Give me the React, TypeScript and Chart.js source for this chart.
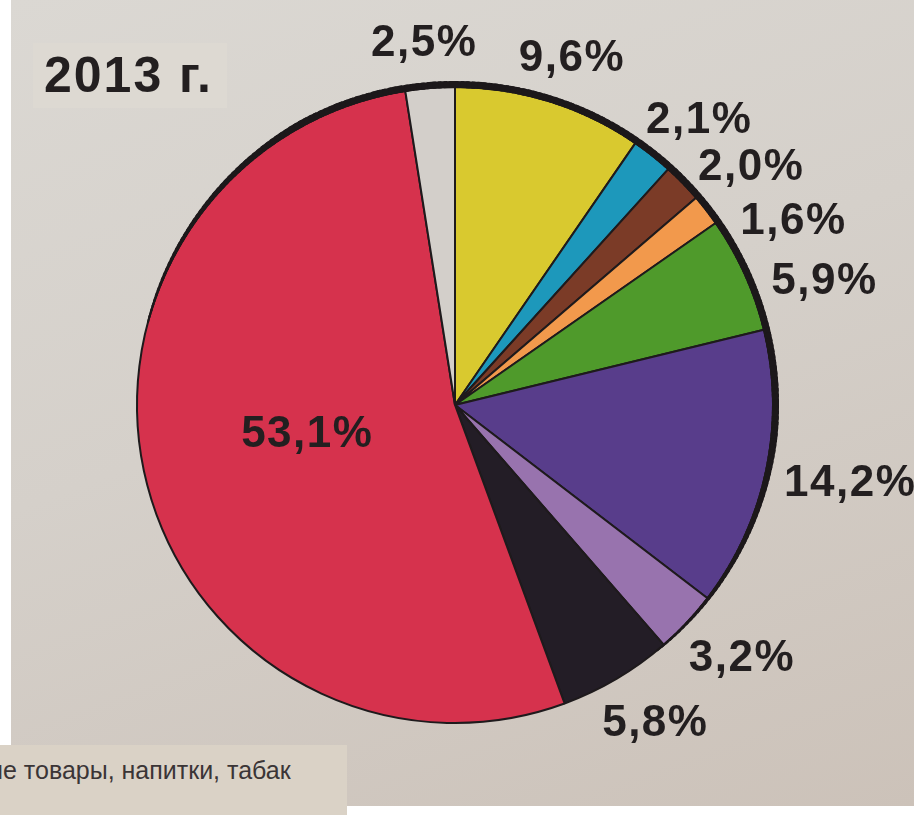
import React, { useEffect, useRef } from 'react';
import { Chart, registerables } from 'chart.js';

Chart.register(...registerables);

// ---- data ----
const titleText = '2013 г.';
const footnoteText = 'ие товары, напитки, табак';
const sectors = ['Жёлтый', 'Голубой', 'Коричневый', 'Оранжевый', 'Зелёный', 'Фиолетовый', 'Сиреневый', 'Чёрный', 'Красный', 'Серый'];
const shares = [9.6, 2.1, 2.0, 1.6, 5.9, 14.2, 3.2, 5.8, 53.1, 2.5];
const sliceColors = ['#d9c92f', '#1d98bb', '#7b3b27', '#f2994c', '#4f9a2b', '#583d8b', '#9873ae', '#231d26', '#d6324d', '#d3cfca'];

const fmt = (v: number) => v.toFixed(1).replace('.', ',') + '%';

const INK = '#231f20';

const labelPlugin = {
  id: 'pctLabels',
  afterDatasetsDraw(chart: any) {
    const ctx: CanvasRenderingContext2D = chart.ctx;
    const arcs = chart.getDatasetMeta(0).data as any[];
    if (!arcs.length) return;
    const { x: cx, y: cy, outerRadius: r } = arcs[0].getProps(['x', 'y', 'outerRadius'], true);

    // thick printed rim on the upper-right part
    ctx.save();
    ctx.strokeStyle = '#1c181a';
    ctx.lineCap = 'butt';
    const deg = Math.PI / 180;
    for (let d = -75; d < 140; d += 1) {
      let w = 7;
      if (d < -30) w = 2 + 5 * ((d + 75) / 45);
      else if (d > 95) w = 7 - 5 * ((d - 95) / 45);
      const rr = r - 1 + w / 2;
      ctx.lineWidth = w;
      ctx.beginPath();
      ctx.arc(cx, cy, rr, (d - 90) * deg, (d + 1.6 - 90) * deg);
      ctx.stroke();
    }
    ctx.restore();

    // percentage labels
    ctx.save();
    ctx.fillStyle = INK;
    ctx.font = 'bold 44px "Liberation Sans", Arial, sans-serif';
    (ctx as any).letterSpacing = '1.5px';
    ctx.textAlign = 'center';
    ctx.textBaseline = 'alphabetic';
    const capHalf = 15.5;
    const gap = 33;
    const minSep = 10.5 * deg;
    let prev = -Infinity;
    arcs.forEach((arc, i) => {
      const { startAngle, endAngle } = arc.getProps(['startAngle', 'endAngle'], true);
      let mid = (startAngle + endAngle) / 2;
      const text = fmt(shares[i]);
      if (shares[i] > 25) {
        const x = cx + 0.48 * r * Math.cos(mid);
        const y = cy + 0.48 * r * Math.sin(mid);
        ctx.fillText(text, x, y + capHalf - 12);
        return;
      }
      mid = Math.max(mid, prev + minSep);
      prev = mid;
      const halfW = (ctx.measureText(text).width / 2) * 0.8;
      const halfH = 15;
      const x = cx + (r + gap) * Math.cos(mid) + Math.cos(mid) * halfW;
      const y = cy + (r + gap) * Math.sin(mid) + Math.sin(mid) * halfH;
      ctx.fillText(text, x, y + capHalf);
    });
    ctx.restore();
  },
};

export default function App() {
  const canvasRef = useRef<HTMLCanvasElement | null>(null);

  useEffect(() => {
    const canvas = canvasRef.current;
    if (!canvas) return;
    const chart = new Chart(canvas, {
      type: 'pie',
      data: {
        labels: sectors,
        datasets: [
          {
            data: shares,
            backgroundColor: sliceColors,
            borderColor: '#1e1a1c',
            borderWidth: 2,
            hoverOffset: 0,
            offset: 0,
          } as any,
        ],
      },
      options: {
        responsive: false,
        animation: false,
        events: [],
        layout: { padding: { left: 136, right: 140, top: 86, bottom: 91 } },
        plugins: {
          legend: { display: false },
          tooltip: { enabled: false },
        },
      },
      plugins: [labelPlugin],
    });
    return () => chart.destroy();
  }, []);

  return (
    <div
      style={{
        position: 'fixed',
        left: 0,
        top: 0,
        width: 914,
        height: 815,
        background: '#ffffff',
        overflow: 'hidden',
        fontFamily: '"Liberation Sans", Arial, sans-serif',
      }}
    >
      <div
        style={{
          position: 'absolute',
          left: 11,
          top: 0,
          width: 903,
          height: 806,
          background: 'linear-gradient(160deg, #dbd8d3 0%, #d5d0ca 45%, #ccc2b9 100%)',
        }}
      />
      <div
        style={{
          position: 'absolute',
          left: 33,
          top: 43,
          width: 194,
          height: 65,
          background: '#ddd9d2',
        }}
      />
      <div
        style={{
          position: 'absolute',
          left: 44,
          top: 50,
          fontSize: 50,
          lineHeight: '50px',
          fontWeight: 'bold',
          letterSpacing: '2px',
          color: INK,
          whiteSpace: 'nowrap',
        }}
      >
        {titleText}
      </div>
      <canvas
        ref={canvasRef}
        width={914}
        height={815}
        style={{ position: 'absolute', left: 0, top: 0, width: 914, height: 815, display: 'block' }}
      />
      <div
        style={{
          position: 'absolute',
          left: 0,
          top: 745,
          width: 347,
          height: 70,
          background: '#dad2c6',
          overflow: 'hidden',
        }}
      >
        <div
          style={{
            position: 'absolute',
            left: -11,
            top: 10,
            fontSize: 25,
            lineHeight: '30px',
            color: '#3a3536',
            whiteSpace: 'nowrap',
          }}
        >
          {footnoteText}
        </div>
      </div>
    </div>
  );
}
